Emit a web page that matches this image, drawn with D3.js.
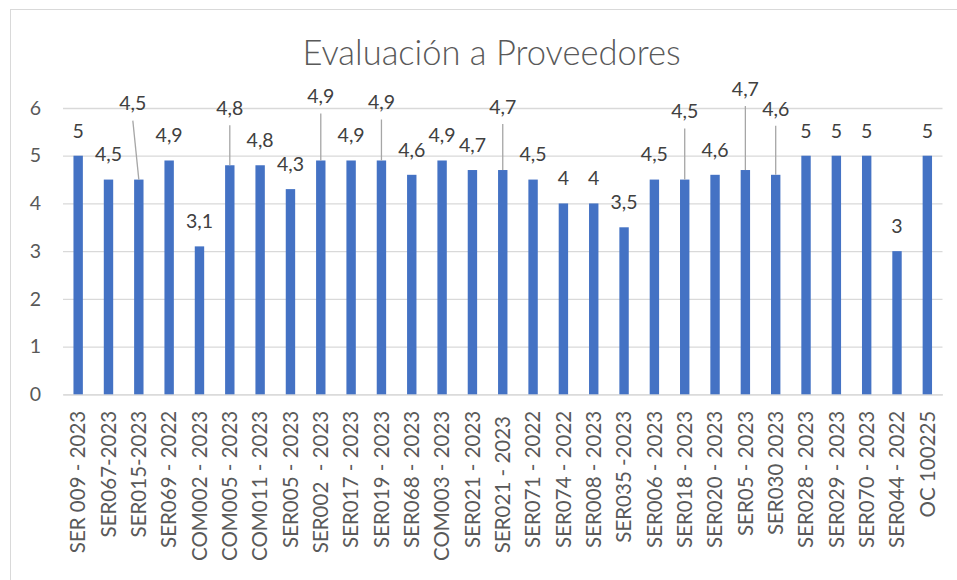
<!DOCTYPE html>
<html>
<head>
<meta charset="utf-8">
<script src="https://cdn.jsdelivr.net/npm/d3@7"></script>
<style>
  body { margin: 0; background: #fff; }
  svg { display: block; font-family: Lato, "Open Sans", sans-serif; }
</style>
</head>
<body>
<div id="chart"></div>
<script>
const proveedores = [
  "SER 009 - 2023", "SER067-2023", "SER015-2023", "SER069 - 2022", "COM002 - 2023",
  "COM005 - 2023", "COM011 - 2023", "SER005 - 2023", "SER002  - 2023", "SER017 - 2023",
  "SER019 - 2023", "SER068 - 2023", "COM003 - 2023", "SER021 - 2023", "SER021 - 2023 ",
  "SER071 - 2022", "SER074 - 2022", "SER008 - 2023", "SER035 -2023", "SER006 - 2023",
  "SER018 - 2023", "SER020 - 2023", "SER05 - 2023", "SER030 2023", "SER028 - 2023",
  "SER029 - 2023", "SER070 - 2023", "SER044 - 2022", "OC 100225"
];
const puntajes = [
  5, 4.5, 4.5, 4.9, 3.1,
  4.8, 4.8, 4.3, 4.9, 4.9,
  4.9, 4.6, 4.9, 4.7, 4.7,
  4.5, 4, 4, 3.5, 4.5,
  4.5, 4.6, 4.7, 4.6, 5,
  5, 5, 3, 5
];
const yTicks = [0, 1, 2, 3, 4, 5, 6];
const titulo = "Evaluación a Proveedores";

// etiquetas movidas a mano (con línea guía), desplazamiento en px
const etiquetasMovidas = {
  2: { dx: -6, dy: -51 }, 5: { dx: 0, dy: -32 }, 8: { dx: 0, dy: -39 },
  10: { dx: 0, dy: -33 }, 14: { dx: 0, dy: -38 }, 20: { dx: 0, dy: -43 },
  22: { dx: 0, dy: -56 }, 23: { dx: 0, dy: -41 }
};

const W = 957, H = 580;
const margin = { top: 108, left: 63, right: 14.5, bottom: 185.7 };
const width = W - margin.left - margin.right;
const height = H - margin.top - margin.bottom;

const fmt = d3.formatLocale({ decimal: ",", thousands: ".", grouping: [3], currency: ["", ""] }).format("~r");

const svg = d3.select("#chart").append("svg")
  .attr("width", W)
  .attr("height", H);

svg.append("rect")
  .attr("x", 10.5).attr("y", 9.5)
  .attr("width", W + 10).attr("height", H + 10)
  .attr("fill", "#fff")
  .attr("stroke", "#d9d9d9");

svg.append("text")
  .attr("x", 491.5).attr("y", 65)
  .attr("text-anchor", "middle")
  .style("font-size", "34.5px")
  .style("font-weight", 300)
  .style("fill", "#595959")
  .text(titulo);

const g = svg.append("g")
  .attr("transform", `translate(${margin.left},${margin.top})`);

const x = d3.scaleBand()
  .domain(d3.range(proveedores.length))
  .range([0, width])
  .paddingInner(0.69)
  .paddingOuter(0.345);

const y = d3.scaleLinear()
  .domain([0, 6])
  .range([height, 0]);

// ejes y rejilla
const yAxis = g.append("g")
  .call(d3.axisLeft(y).tickValues(yTicks).tickSize(-width).tickPadding(22).tickFormat(d => d));
yAxis.select(".domain").remove();
yAxis.selectAll("line").attr("stroke", "#d9d9d9").attr("stroke-width", 1.3);
yAxis.selectAll("text")
  .style("font-size", "19.5px")
  .style("fill", "#595959")
  .style("font-family", "Lato, sans-serif");

const xAxis = g.append("g")
  .attr("transform", `translate(0,${height})`)
  .call(d3.axisBottom(x).tickSize(0).tickFormat(i => proveedores[i]));
xAxis.select(".domain").attr("stroke", "#d9d9d9").attr("stroke-width", 1.3);
xAxis.selectAll("text")
  .attr("transform", "rotate(-90)")
  .attr("x", -16.5)
  .attr("y", 0)
  .attr("dy", "0.35em")
  .attr("text-anchor", "end")
  .style("white-space", "pre")
  .style("font-size", "20.5px")
  .style("fill", "#595959")
  .style("font-family", "Lato, sans-serif");

// barras
g.selectAll(".bar")
  .data(puntajes)
  .enter()
  .append("rect")
  .attr("class", "bar")
  .attr("x", (d, i) => x(i))
  .attr("y", d => y(d))
  .attr("width", x.bandwidth())
  .attr("height", d => height - y(d))
  .attr("fill", "#4472c4");

// etiquetas de datos
const etiquetas = g.selectAll(".lbl")
  .data(puntajes)
  .enter()
  .append("g")
  .attr("class", "lbl");

etiquetas.each(function(d, i) {
  const cx = x(i) + x.bandwidth() / 2;
  const off = etiquetasMovidas[i] || { dx: 0, dy: 0 };
  const ly = y(d) - 25 + off.dy;
  const lx = cx + off.dx;
  const sel = d3.select(this);
  if (etiquetasMovidas[i]) {
    sel.append("line")
      .attr("x1", lx).attr("y1", ly + 17)
      .attr("x2", cx).attr("y2", y(d))
      .attr("stroke", "#a6a6a6")
      .attr("stroke-width", 1.3);
  }
  sel.append("text")
    .attr("x", lx)
    .attr("y", ly)
    .attr("dy", "0.35em")
    .attr("text-anchor", "middle")
    .style("font-size", "19.5px")
    .style("fill", "#404040")
    .text(fmt(d));
});
</script>
</body>
</html>
